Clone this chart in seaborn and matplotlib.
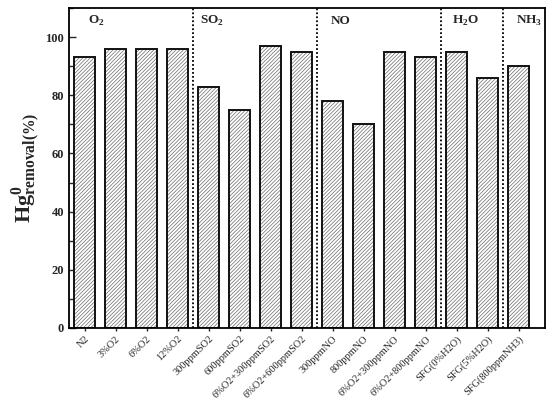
import matplotlib
matplotlib.use("Agg")
import matplotlib.pyplot as plt
import seaborn as sns
import pandas as pd
from matplotlib.ticker import MultipleLocator

categories = ["N2", "3%O2", "6%O2", "12%O2", "300ppmSO2", "600ppmSO2",
              "6%O2+300ppmSO2", "6%O2+600ppmSO2", "300ppmNO", "800ppmNO",
              "6%O2+300ppmNO", "6%O2+800ppmNO", "SFG(0%H2O)", "SFG(5%H2O)",
              "SFG(800ppmNH3)"]
removal = [93, 96, 96, 96, 83, 75, 97, 95, 78, 70, 95, 93, 95, 86, 90]
group_labels = [r"O$_\mathbf{2}$", r"SO$_\mathbf{2}$", "NO", r"H$_\mathbf{2}$O", r"NH$_\mathbf{3}$"]
group_label_x = [0.1, 3.72, 7.95, 11.85, 13.9]
separators = [3.5, 7.5, 11.5, 13.5]

df = pd.DataFrame({"cat": categories, "val": removal})

sns.set_style("ticks")
plt.rcParams["font.family"] = ["Liberation Serif", "DejaVu Serif"]
plt.rcParams["mathtext.fontset"] = "custom"
plt.rcParams["mathtext.rm"] = "Liberation Serif"
plt.rcParams["mathtext.bf"] = "Liberation Serif:bold"
plt.rcParams["hatch.linewidth"] = 0.5

fig = plt.figure(figsize=(5.5, 3.99), dpi=100)
ax = fig.add_axes([0.1255, 0.178, 0.8655, 0.802])

sns.barplot(data=df, x="cat", y="val", color="white", width=0.68,
            linewidth=0, ax=ax)
for p in ax.patches:
    p.set_hatch("/////////")
    p.set_edgecolor("#6a6a6a")
    p.set_facecolor("white")
sns.barplot(data=df, x="cat", y="val", fill=False, width=0.68,
            edgecolor="#111111", linewidth=1.4, ax=ax)

for s in separators:
    ax.axvline(s, color="black", linestyle=(0, (1.0, 1.2)), linewidth=1.3)

for lab, x in zip(group_labels, group_label_x):
    ax.text(x, 105.5, lab, ha="left", va="center", fontsize=9.5, fontweight="bold")

ax.set_xlim(-0.5, 14.85)
ax.set_ylim(0, 110)
ax.yaxis.set_major_locator(MultipleLocator(20))
ax.yaxis.set_minor_locator(MultipleLocator(10))
ax.tick_params(axis="y", which="major", direction="in", length=5, width=1, labelsize=9)
ax.tick_params(axis="y", which="minor", direction="in", length=3, width=1)
ax.tick_params(axis="x", direction="out", length=2.5, width=1, labelsize=7.5, pad=2)
for t in ax.get_yticklabels():
    t.set_fontweight("bold")
ax.set_xticks(range(len(categories)))
ax.set_xticklabels(categories, rotation=45, ha="right", rotation_mode="anchor")
ax.set_xlabel("")
ax.set_ylabel(r"$\mathbf{Hg^{0}_{removal(\%)}}$", fontsize=16, labelpad=2)
for sp in ax.spines.values():
    sp.set_visible(True)
    sp.set_linewidth(1.3)
    sp.set_color("black")

fig.savefig("out.png", dpi=100)
